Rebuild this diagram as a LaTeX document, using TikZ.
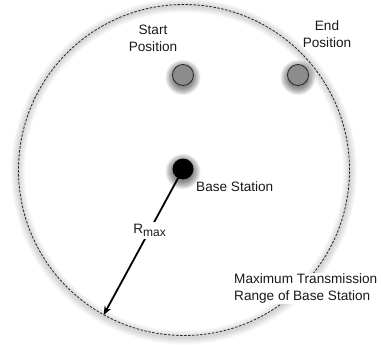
\documentclass[tikz,border=0pt]{standalone}
\usepackage{fontspec}
\setmainfont{Liberation Sans}
\usetikzlibrary{arrows.meta}
\begin{document}
\begin{tikzpicture}[x=1pt,y=-1pt,
  lbl/.style={font=\fontsize{13.6}{17}\selectfont, inner sep=1pt, align=center, text=black!90},
  rangecircle/.style={circle, draw=black!85, dash pattern=on 2.5pt off 1.5pt, line width=0.8pt,
    minimum size=331pt, inner sep=0pt},
  posdot/.style={circle, draw=black!85, line width=0.8pt, fill=black!45, minimum size=21pt, inner sep=0pt},
  basedot/.style={circle, fill=black, minimum size=21pt, inner sep=0pt},
  softshadow/.style={fill=black, opacity=0.07},
  halo/.style={draw=black, opacity=0.025},
  radius/.style={line width=1.8pt, -{Stealth[length=9pt,width=7pt]}}
]
\useasboundingbox (0,0) rectangle (383,345);
\fill[white] (0,0) rectangle (383,345);
% faint halo round the range circle
\foreach \w in {2,4,...,14} {\draw[halo, line width=\w pt] (184,171.5) circle (166);}
\node[rangecircle] (range) at (184,170) {};
% soft shadows of the dots
\foreach \p in {(183,75),(298,75),(183,169)} {
  \foreach \r in {10.5,11.5,...,17.5} {\fill[softshadow] \p ++(0,2.5) circle (\r);}
}
\node[posdot] (start) at (183,75) {};
\node[posdot] (end) at (298,75) {};
\node[lbl] (startlbl) at (153,38) {Start\\Position};
\node[lbl] (endlbl) at (327,34) {End\\Position};
\coordinate (bsc) at (183,169);
\draw[radius] (bsc) -- (range.-119.5)
  node[lbl, pos=0.42, fill=white, inner sep=2pt] (rmax) {R\raisebox{-3.5pt}{\fontsize{12}{12}\selectfont max}};
\node[basedot] (bs) at (bsc) {};
\node[lbl, anchor=west, inner sep=0pt] (bslbl) at (196,187) {Base Station};
\node[lbl, anchor=west, align=left, fill=white, inner sep=1pt] (rangelbl) at (233,288.5) {Maximum Transmission\\Range of Base Station};
\end{tikzpicture}
\end{document}
